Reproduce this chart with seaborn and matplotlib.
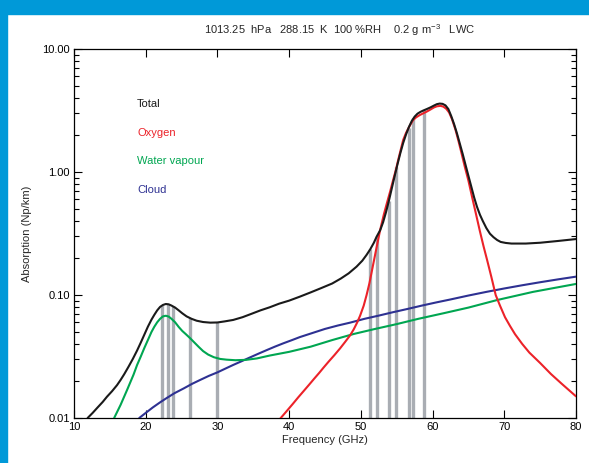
import matplotlib
matplotlib.use("Agg")
import matplotlib.pyplot as plt
from matplotlib.patches import Rectangle
from matplotlib.ticker import FixedLocator, FixedFormatter, LogLocator, NullFormatter
import seaborn as sns
import pandas as pd

# --- data ---
total_f = [11.9, 12.6, 13.3, 14.0, 14.6, 15.3, 16.0, 16.5, 17.0, 17.6, 18.2, 18.8, 19.3,
           19.8, 20.3, 20.8, 21.2, 21.6, 22.0, 22.4, 22.8, 23.2, 23.6, 24.1, 24.6, 25.1,
           25.7, 26.4, 27.1, 28.0, 29.0, 30.0, 31.0, 32.2, 33.5, 34.8, 36.0, 37.3, 38.6,
           40.0, 41.5, 43.0, 44.5, 46.0, 47.2, 48.3, 49.4, 50.2, 50.8, 51.3, 51.8, 52.2,
           52.7, 53.1, 53.5, 53.9, 54.3, 54.7, 55.1, 55.5, 55.9, 56.3, 56.7, 57.1, 57.5,
           57.9, 58.3, 58.7, 59.2, 59.7, 60.2, 60.6, 61.0, 61.4, 61.8, 62.2, 62.6, 63.0,
           63.4, 63.8, 64.2, 64.6, 65.0, 65.4, 65.8, 66.2, 66.6, 67.0, 67.5, 68.0, 68.5,
           69.0, 69.5, 70.2, 71.0, 73.0, 75.0, 77.5, 80.0]
total_v = [0.010, 0.011, 0.0122, 0.0135, 0.0149, 0.0165, 0.0185, 0.0204, 0.0227, 0.0261,
           0.0302, 0.0354, 0.0409, 0.0475, 0.0552, 0.063, 0.069, 0.075, 0.080, 0.083, 0.0845,
           0.084, 0.082, 0.079, 0.075, 0.071, 0.067, 0.064, 0.0618, 0.0603, 0.0596, 0.0598,
           0.061, 0.0627, 0.066, 0.0705, 0.075, 0.0795, 0.085, 0.090, 0.097, 0.105, 0.114,
           0.124, 0.136, 0.150, 0.170, 0.19, 0.212, 0.235, 0.265, 0.298, 0.337, 0.39, 0.47,
           0.58, 0.73, 0.92, 1.15, 1.42, 1.72, 2.02, 2.32, 2.6, 2.82, 2.98, 3.08, 3.16, 3.25,
           3.35, 3.47, 3.56, 3.6, 3.58, 3.48, 3.25, 2.85, 2.45, 2.06, 1.7, 1.4, 1.14, 0.93,
           0.76, 0.62, 0.52, 0.45, 0.40, 0.35, 0.315, 0.295, 0.28, 0.27, 0.265, 0.262, 0.262,
           0.266, 0.275, 0.285]

oxygen_f = [38.7, 39.5, 40.5, 41.3, 42.0, 42.8, 43.5, 44.2, 44.8, 45.5, 46.3, 47.1, 47.8,
            48.5, 49.0, 49.5, 49.9, 50.4, 50.8, 51.2, 51.7, 52.2, 52.7, 53.2, 53.6, 54.1,
            54.5, 54.9, 55.2, 55.6, 55.9, 56.3, 56.6, 57.0, 57.3, 57.7, 58.2, 58.7, 59.2,
            59.7, 60.2, 60.6, 61.1, 61.5, 61.9, 62.3, 62.7, 63.2, 63.6, 64.0, 64.5, 65.0,
            65.5, 66.0, 66.6, 67.1, 67.6, 68.2, 68.8, 69.4, 70.1, 70.8, 71.5, 72.5, 73.5,
            75.0, 76.5, 78.0, 80.0]
oxygen_v = [0.0098, 0.0111, 0.013, 0.0148, 0.0165, 0.0187, 0.0209, 0.0233, 0.0257, 0.0287,
            0.0324, 0.0368, 0.0415, 0.047, 0.0525, 0.06, 0.068, 0.082, 0.100, 0.125, 0.175,
            0.245, 0.34, 0.45, 0.55, 0.70, 0.86, 1.05, 1.25, 1.55, 1.82, 2.08, 2.25, 2.48,
            2.65, 2.78, 2.9, 3.0, 3.1, 3.22, 3.35, 3.42, 3.45, 3.4, 3.27, 3.05, 2.7, 2.2, 1.8,
            1.45, 1.1, 0.85, 0.63, 0.47, 0.33, 0.25, 0.193, 0.14, 0.10, 0.082, 0.066, 0.056,
            0.048, 0.040, 0.034, 0.028, 0.0228, 0.019, 0.015]

vapour_f = [15.6, 16.5, 17.4, 18.3, 18.8, 19.3, 19.8, 20.3, 20.8, 21.2, 21.6, 22.0, 22.4,
            22.8, 23.2, 23.6, 24.1, 24.6, 25.1, 25.6, 26.2, 26.8, 27.4, 28.0, 28.7, 29.5,
            30.4, 31.3, 32.5, 34.0, 35.5, 37.3, 40.0, 43.0, 46.0, 49.0, 52.0, 55.0, 58.0,
            61.5, 65.0, 69.0, 74.0, 80.0]
vapour_v = [0.010, 0.0128, 0.0169, 0.0225, 0.027, 0.0315, 0.037, 0.043, 0.050, 0.0552, 0.060,
            0.064, 0.067, 0.0678, 0.0668, 0.064, 0.060, 0.055, 0.051, 0.048, 0.0445, 0.041,
            0.0378, 0.035, 0.0328, 0.0312, 0.0302, 0.0298, 0.0295, 0.0297, 0.0305, 0.0322,
            0.0345, 0.038, 0.043, 0.0482, 0.053, 0.058, 0.064, 0.071, 0.079, 0.091, 0.106,
            0.123]

cloud_f = [19.1, 20.0, 21.0, 22.0, 22.9, 24.0, 25.3, 26.5, 27.6, 28.8, 30.0, 31.1, 32.2,
           33.4, 34.5, 35.7, 36.9, 38.0, 39.2, 40.4, 41.5, 43.2, 45.0, 46.8, 48.5, 50.5,
           52.5, 54.5, 56.5, 58.5, 60.5, 62.5, 65.0, 67.5, 70.0, 72.5, 75.0, 77.5, 80.0]
cloud_v = [0.010, 0.011, 0.0122, 0.0134, 0.0145, 0.0159, 0.0174, 0.019, 0.0204, 0.022, 0.0235,
           0.0252, 0.027, 0.029, 0.031, 0.0333, 0.0357, 0.038, 0.0405, 0.043, 0.0455, 0.049,
           0.053, 0.0565, 0.0596, 0.064, 0.068, 0.0725, 0.077, 0.082, 0.087, 0.092, 0.099,
           0.106, 0.113, 0.12, 0.127, 0.134, 0.141]

# radiometer channels (grey bars), drawn up to the total curve
channel_f = [22.24, 23.04, 23.84, 26.24, 30.0, 51.26, 52.28, 53.86, 54.94, 56.66, 57.3, 58.8]
channel_top = [0.083, 0.085, 0.081, 0.065, 0.0598, 0.235, 0.30, 0.58, 1.1, 2.3, 2.75, 3.2]

names = ["Total", "Oxygen", "Water vapour", "Cloud"]
colors = {"Total": "#1a1a1a", "Oxygen": "#ec2229", "Water vapour": "#00a651", "Cloud": "#2e3192"}

df = pd.concat([
    pd.DataFrame({"freq": total_f, "absorption": total_v, "component": "Total"}),
    pd.DataFrame({"freq": oxygen_f, "absorption": oxygen_v, "component": "Oxygen"}),
    pd.DataFrame({"freq": vapour_f, "absorption": vapour_v, "component": "Water vapour"}),
    pd.DataFrame({"freq": cloud_f, "absorption": cloud_v, "component": "Cloud"}),
])

sns.set_style("ticks")
plt.rcParams["font.family"] = ["Liberation Sans", "DejaVu Sans"]
plt.rcParams["mathtext.fontset"] = "custom"
plt.rcParams["mathtext.rm"] = "Liberation Sans"
plt.rcParams["mathtext.it"] = "Liberation Sans"

fig = plt.figure(figsize=(5.89, 4.63), dpi=100)
ax = fig.add_axes([74 / 589, 1 - 418 / 463, 502 / 589, 369 / 463])

ax.vlines(channel_f, 0.01, channel_top, colors="#a9adb3", linewidth=2.4, zorder=1)

sns.lineplot(data=df, x="freq", y="absorption", hue="component", hue_order=names[::-1],
             palette=colors, estimator=None, linewidth=1.5, legend=False, ax=ax, zorder=3,
             solid_joinstyle="round", solid_capstyle="round")

ax.set_yscale("log")
ax.set_xlim(10, 80)
ax.set_ylim(0.01, 10)
ax.xaxis.set_major_locator(FixedLocator(range(10, 81, 10)))
ax.yaxis.set_major_locator(FixedLocator([0.01, 0.1, 1, 10]))
ax.yaxis.set_major_formatter(FixedFormatter(["0.01", "0.10", "1.00", "10.00"]))
ax.yaxis.set_minor_locator(LogLocator(base=10, subs=range(2, 10)))
ax.yaxis.set_minor_formatter(NullFormatter())
ax.tick_params(which="both", direction="in", top=True, right=True, labelsize=8,
               width=0.8, colors="black", pad=3)
ax.tick_params(which="major", length=6)
ax.tick_params(which="minor", length=3.5)
for s in ax.spines.values():
    s.set_linewidth(0.9)
    s.set_color("black")

ax.set_xlabel("Frequency (GHz)", fontsize=8)
ax.set_ylabel("Absorption (Np/km)", fontsize=8)
ax.xaxis.set_label_coords(0.5, -0.045)
ax.yaxis.set_label_coords(-0.083, 0.5)

label_y = [0.851, 0.772, 0.696, 0.618]
for name, ly in zip(names, label_y):
    ax.text(0.1255, ly, name, color=colors[name], fontsize=8, transform=ax.transAxes,
            va="center", ha="left")

fig.text(340 / 589, 1 - 30 / 463,
         "1013.25  hPa   288.15  K  100 %RH    0.2 g m$^{-3}$   LWC",
         fontsize=8, ha="center", va="center")

# blue frame strips (left and top)
fig.add_artist(Rectangle((0, 0), 7 / 589, 1, transform=fig.transFigure,
                         color="#0099d8", zorder=10))
fig.add_artist(Rectangle((0, 1 - 14 / 463), 1, 14 / 463, transform=fig.transFigure,
                         color="#0099d8", zorder=10))

fig.savefig("out.png", dpi=100)
